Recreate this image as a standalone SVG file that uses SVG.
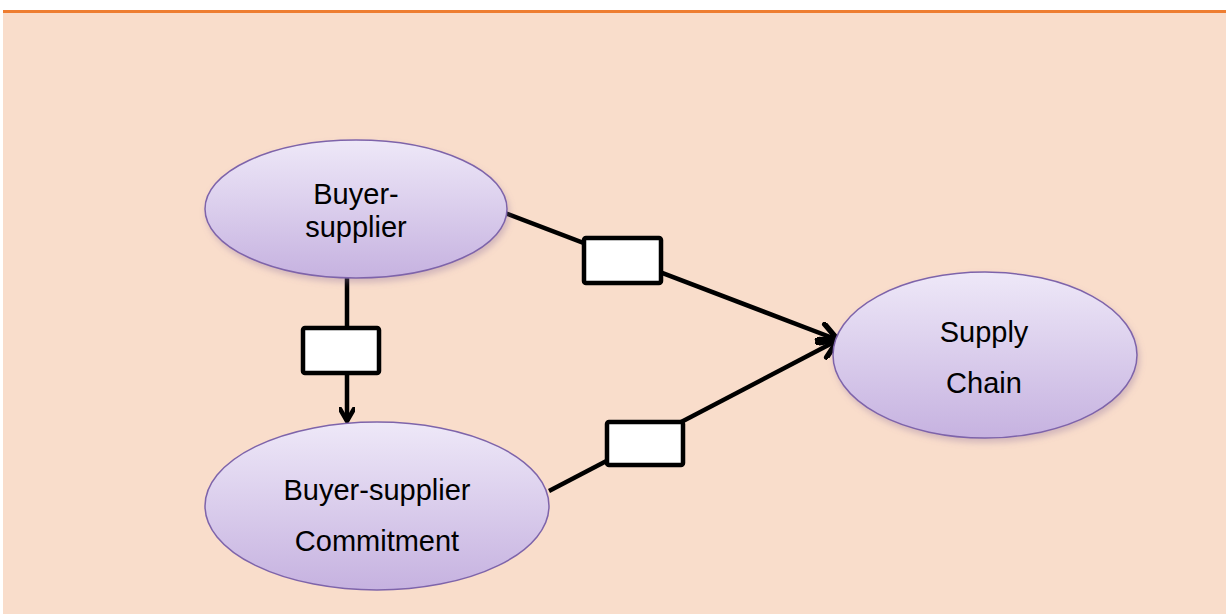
<svg xmlns="http://www.w3.org/2000/svg" width="1226" height="614" viewBox="0 0 1226 614">
<style>
.node{stroke:#7E64AA;stroke-width:1.5;fill:url(#g)}
.lbl{font-family:"Liberation Sans",Arial,sans-serif;font-size:29px;fill:#000;text-anchor:middle}
.conn{stroke:#000;stroke-width:4.5;fill:none}
.box{fill:#fff;stroke:#000;stroke-width:4.5}
</style>
<defs>
<linearGradient id="g" x1="0" y1="0" x2="0" y2="1">
<stop offset="0" stop-color="#EEE8F8"/>
<stop offset="1" stop-color="#C6B2E0"/>
</linearGradient>
<filter id="sh" x="-10%" y="-10%" width="130%" height="140%">
<feDropShadow dx="2" dy="4" stdDeviation="3" flood-color="#8A6F9E" flood-opacity="0.35"/>
</filter>
<marker id="ah" viewBox="0 0 16 16" refX="14" refY="8" markerWidth="16" markerHeight="16" markerUnits="userSpaceOnUse" orient="auto">
<path d="M2,1 L14,8 L2,15" fill="none" stroke="#000" stroke-width="4.5" stroke-linecap="round" stroke-linejoin="round"/>
</marker>
<marker id="ah2" viewBox="0 0 24 24" refX="21" refY="12" markerWidth="24" markerHeight="24" markerUnits="userSpaceOnUse" orient="auto">
<path d="M3,2 L21,12 L3,22" fill="none" stroke="#000" stroke-width="5.5" stroke-linecap="round" stroke-linejoin="round"/>
</marker>
</defs>
<rect x="0" y="0" width="1226" height="614" fill="#fff"/>
<rect x="3" y="12" width="1223" height="602" fill="#F9DDCB"/>
<rect x="3" y="10" width="1223" height="3" fill="#EE7D31"/>
<g id="connectors">
<line class="conn" x1="347" y1="278" x2="347" y2="421" marker-end="url(#ah)"/>
<line class="conn" x1="505" y1="213" x2="838" y2="340" marker-end="url(#ah2)"/>
<line class="conn" x1="549" y1="491" x2="838" y2="340" marker-end="url(#ah2)"/>
<rect class="box" x="303" y="328" width="76" height="45" rx="2"/>
<rect class="box" x="584" y="238" width="77" height="45" rx="2"/>
<rect class="box" x="607" y="422" width="76" height="43" rx="2"/>
</g>
<g id="n1">
<ellipse class="node" cx="356" cy="209" rx="151" ry="69" filter="url(#sh)"/>
<text class="lbl" x="356" y="204">Buyer-</text>
<text class="lbl" x="356" y="237">supplier</text>
</g>
<g id="n2">
<ellipse class="node" cx="377" cy="506" rx="172" ry="84"/>
<text class="lbl" x="377" y="500">Buyer-supplier</text>
<text class="lbl" x="377" y="551">Commitment</text>
</g>
<g id="n3">
<ellipse class="node" cx="985" cy="355" rx="152" ry="83" filter="url(#sh)"/>
<text class="lbl" x="984" y="342">Supply</text>
<text class="lbl" x="984" y="393">Chain</text>
</g>
</svg>
